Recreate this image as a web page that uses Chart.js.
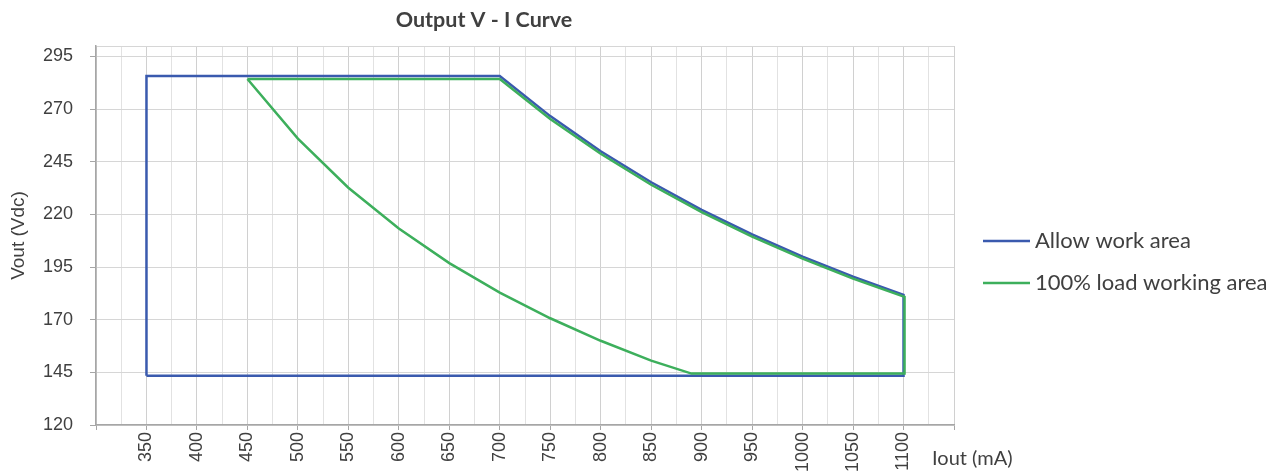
<!DOCTYPE html>
<html>
<head>
<meta charset="utf-8">
<script src="https://cdn.jsdelivr.net/npm/chart.js@4"></script>
<style>
    html, body { margin: 0; padding: 0; background: #fff; }
    #wrap { width: 1277px; height: 471px; }
</style>
</head>
<body>
<div id="wrap"><canvas id="viChart" width="1277" height="471"></canvas></div>
<script>
// Allow work area (blue outline)
const allowI = [350, 350, 700, 750, 800, 850, 900, 950, 1000, 1050, 1100, 1100, 350];
const allowV = [143.4, 285.7, 285.7, 266.7, 250, 235.3, 222.2, 210.5, 200, 190.5, 181.8, 143.4, 143.4];

// 100% load working area (green outline)
const loadI = [450, 700, 750, 800, 850, 900, 950, 1000, 1050, 1101, 1101, 890, 850, 800, 750, 700, 650, 600, 550, 500, 450];
const loadV = [284.3, 284.3, 265.3, 248.8, 234.1, 221.1, 209.5, 199, 189.5, 180.9, 144.4, 144.4, 150.6, 160, 170.7, 182.9, 196.9, 213.3, 232.7, 256, 284.3];

const seriesNames = ['Allow work area', '100% load working area'];
const seriesColors = ['#3a5aae', '#3daf5c'];

const xGrid = [300, 325, 350, 375, 400, 425, 450, 475, 500, 525, 550, 575, 600, 625, 650, 675, 700, 725, 750, 775, 800, 825, 850, 875, 900, 925, 950, 975, 1000, 1025, 1050, 1075, 1100, 1125, 1150];
const xLabels = [350, 400, 450, 500, 550, 600, 650, 700, 750, 800, 850, 900, 950, 1000, 1050, 1100];
const yTicks = [120, 145, 170, 195, 220, 245, 270, 295, 300];
const yLabels = [120, 145, 170, 195, 220, 245, 270, 295];

function toPoints(xs, ys) {
    return xs.map((x, i) => ({ x: x, y: ys[i] }));
}

const extraText = {
    id: 'extraText',
    afterDraw(chart) {
        const ctx = chart.ctx;
        ctx.save();
        ctx.fillStyle = '#404040';
        ctx.textBaseline = 'middle';

        ctx.font = 'bold 21.5px Lato';
        ctx.textAlign = 'center';
        ctx.fillText('Output V - I Curve', 484, 20);

        ctx.textAlign = 'left';
        ctx.font = '22px Lato';
        const rows = [241, 283];
        seriesNames.forEach((name, i) => {
            ctx.strokeStyle = seriesColors[i];
            ctx.lineWidth = 2.5;
            ctx.beginPath();
            ctx.moveTo(983, rows[i]);
            ctx.lineTo(1030, rows[i]);
            ctx.stroke();
            ctx.fillText(name, 1035, rows[i]);
        });

        ctx.font = '20px Lato';
        ctx.fillText('Iout (mA)', 932, 459);
        ctx.restore();
    }
};

const ctx = document.getElementById('viChart').getContext('2d');
new Chart(ctx, {
    type: 'scatter',
    data: {
        datasets: [{
            label: seriesNames[0],
            data: toPoints(allowI, allowV),
            showLine: true,
            borderColor: seriesColors[0],
            borderWidth: 2.5,
            pointRadius: 0,
            order: 2
        }, {
            label: seriesNames[1],
            data: toPoints(loadI, loadV),
            showLine: true,
            borderColor: seriesColors[1],
            borderWidth: 2.5,
            pointRadius: 0,
            order: 1
        }]
    },
    options: {
        responsive: false,
        animation: false,
        layout: { padding: { left: 0, top: 46, right: 323, bottom: 0 } },
        scales: {
            x: {
                type: 'linear',
                min: 300,
                max: 1150,
                afterBuildTicks: axis => { axis.ticks = xGrid.map(v => ({ value: v })); },
                afterFit: axis => { axis.height = 46; },
                border: { color: '#a6a6a6', width: 1.5 },
                grid: {
                    color: c => (c.tick && c.tick.value % 50 === 0) ? '#d0d0d0' : '#e2e2e2',
                    tickColor: c => (c.tick && c.tick.value % 50 === 0) ? '#a6a6a6' : 'rgba(0,0,0,0)',
                    tickLength: 5
                },
                ticks: {
                    autoSkip: false,
                    minRotation: 90,
                    maxRotation: 90,
                    padding: 2,
                    color: '#404040',
                    font: { family: 'Liberation Sans', size: 18 },
                    callback: v => xLabels.includes(v) ? String(v) : ''
                }
            },
            y: {
                min: 120,
                max: 300,
                afterBuildTicks: axis => { axis.ticks = yTicks.map(v => ({ value: v })); },
                afterFit: axis => { axis.width = 96; },
                border: { color: '#a6a6a6', width: 1.5 },
                grid: {
                    color: '#d6d6d6',
                    tickColor: c => (c.tick && yLabels.includes(c.tick.value)) ? '#a6a6a6' : 'rgba(0,0,0,0)',
                    tickLength: 6
                },
                ticks: {
                    autoSkip: false,
                    padding: 17,
                    color: '#404040',
                    font: { family: 'Liberation Sans', size: 18 },
                    callback: v => yLabels.includes(v) ? String(v) : ''
                },
                title: {
                    display: true,
                    text: 'Vout (Vdc)',
                    color: '#404040',
                    font: { family: 'Liberation Sans', size: 19 },
                    padding: { top: 7, bottom: 0 }
                }
            }
        },
        plugins: {
            legend: { display: false },
            tooltip: { enabled: false }
        }
    },
    plugins: [extraText]
});
</script>
</body>
</html>
